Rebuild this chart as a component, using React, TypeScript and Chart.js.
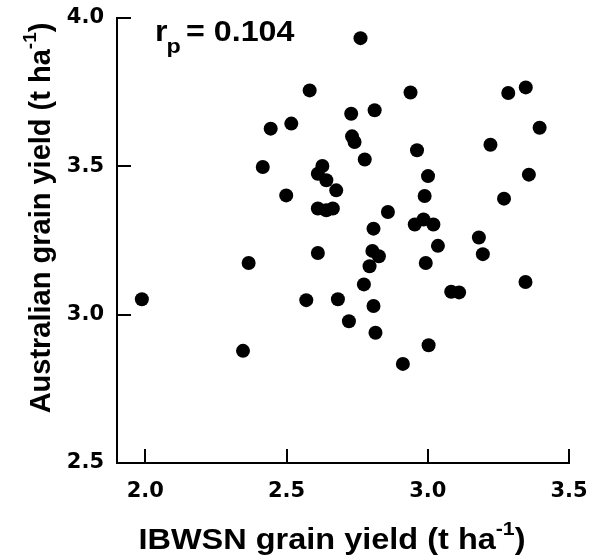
import React, { useEffect, useRef } from "react";
import { Chart, registerables } from "chart.js";

Chart.register(...registerables);

const ibwsnYield = [
  2.762, 2.582, 2.729, 2.812, 2.444, 2.517, 2.732, 2.741, 2.777, 2.416,
  2.627, 2.611, 2.641, 2.676, 2.499, 2.939, 3.285, 3.347, 3.396, 3.222,
  2.962, 3.001, 2.989, 3.358, 3.270, 2.611, 2.641, 2.664, 2.859, 2.808,
  2.611, 2.804, 2.827, 2.794, 2.366, 2.774, 1.988, 2.570, 2.682, 2.808,
  2.721, 2.815, 2.346, 2.912, 2.954, 2.985, 3.020, 3.036, 3.181, 3.195,
  2.993, 3.083, 3.111, 3.346, 3.003,
];
const australianYield = [
  3.932, 3.756, 3.677, 3.689, 3.627, 3.644, 3.601, 3.582, 3.523, 3.498,
  3.501, 3.475, 3.453, 3.419, 3.402, 3.749, 3.747, 3.766, 3.630, 3.573,
  3.554, 3.467, 3.400, 3.472, 3.391, 3.358, 3.352, 3.358, 3.346, 3.290,
  3.208, 3.215, 3.197, 3.163, 3.174, 3.102, 3.052, 3.049, 3.052, 3.029,
  2.978, 2.939, 2.878, 2.834, 3.304, 3.321, 3.304, 3.232, 3.260, 3.204,
  3.174, 3.077, 3.075, 3.110, 2.897,
];
const xTicks = [2.0, 2.5, 3.0, 3.5];
const yTicks = [2.5, 3.0, 3.5, 4.0];
const xTitle = "IBWSN grain yield (t ha";
const yTitle = "Australian grain yield (t ha";
const titleSup = "-1";
const corrLabel = "r";
const corrSub = "p";
const corrValue = "= 0.104";

const FONT = "'Liberation Sans', Arial, Helvetica, sans-serif";
const TICK_FONT = "'DejaVu Sans', 'Liberation Sans', sans-serif";

function drawTitle(ctx: any, main: string, cx: number, sx: number) {
  const mainFont = "bold 29px " + FONT;
  const supFont = "bold 19px " + FONT;
  ctx.font = mainFont;
  const wMain = ctx.measureText(main).width;
  ctx.font = supFont;
  const wSup = ctx.measureText(titleSup).width;
  ctx.font = mainFont;
  const wClose = ctx.measureText(")").width;
  const total = (wMain + wSup + wClose) * sx;
  ctx.save();
  ctx.translate(cx - total / 2, 0);
  ctx.scale(sx, 1);
  ctx.textAlign = "left";
  ctx.fillText(main, 0, 0);
  ctx.font = supFont;
  ctx.fillText(titleSup, wMain, -14);
  ctx.font = mainFont;
  ctx.fillText(")", wMain + wSup, 0);
  ctx.restore();
}

const decorPlugin = {
  id: "decor",
  afterDraw(chart: any) {
    const ctx = chart.ctx;
    const xs = chart.scales.x;
    const ys = chart.scales.y;
    const area = chart.chartArea;
    ctx.save();
    ctx.strokeStyle = "#000";
    ctx.lineWidth = 2;
    const tl = 14;
    xTicks.forEach((v) => {
      const px = Math.round(xs.getPixelForValue(v));
      ctx.beginPath();
      ctx.moveTo(px, area.bottom);
      ctx.lineTo(px, area.bottom - tl);
      ctx.stroke();
    });
    yTicks.forEach((v) => {
      if (v === yTicks[0]) return;
      const py = Math.round(ys.getPixelForValue(v));
      ctx.beginPath();
      ctx.moveTo(area.left, py);
      ctx.lineTo(area.left + tl, py);
      ctx.stroke();
    });

    ctx.fillStyle = "#000";
    ctx.textBaseline = "alphabetic";

    ctx.save();
    ctx.translate(0, 549);
    drawTitle(ctx, xTitle, 332, 1.12);
    ctx.restore();

    ctx.save();
    ctx.translate(50, 218);
    ctx.rotate(-Math.PI / 2);
    drawTitle(ctx, yTitle, 0, 1.0);
    ctx.restore();

    ctx.save();
    ctx.translate(155, 41);
    ctx.scale(1.11, 1);
    ctx.textAlign = "left";
    ctx.font = "bold 29px " + FONT;
    ctx.fillText(corrLabel, 0, 0);
    const wr = ctx.measureText(corrLabel).width;
    ctx.font = "bold 21px " + FONT;
    ctx.fillText(corrSub, wr - 1, 12);
    ctx.font = "bold 29px " + FONT;
    ctx.fillText(corrValue, 28, 0);
    ctx.restore();

    ctx.restore();
  },
};

export default function App() {
  const ref = useRef<HTMLCanvasElement | null>(null);
  useEffect(() => {
    if (!ref.current) return;
    const points = ibwsnYield.map((x, i) => ({ x, y: australianYield[i] }));
    const chart = new Chart(ref.current, {
      type: "scatter",
      data: {
        datasets: [
          {
            data: points,
            backgroundColor: "#000",
            borderColor: "#000",
            pointRadius: 7,
            pointHoverRadius: 7,
            borderWidth: 0,
          },
        ],
      },
      options: {
        responsive: false,
        animation: false,
        devicePixelRatio: 1,
        clip: false as any,
        layout: { padding: { top: 18, right: 22, left: 0, bottom: 0 } },
        plugins: {
          legend: { display: false },
          tooltip: { enabled: false },
        },
        scales: {
          x: {
            type: "linear",
            min: 1.9,
            max: 3.5,
            afterBuildTicks: (s: any) => {
              s.ticks = xTicks.map((v) => ({ value: v }));
            },
            afterFit: (s: any) => {
              s.height = 96;
              s.paddingLeft = 0;
              s.paddingRight = 0;
            },
            grid: { display: false, drawTicks: false },
            border: { display: true, color: "#000", width: 2 },
            ticks: {
              padding: 16,
              color: "#000",
              font: { family: TICK_FONT, size: 21, weight: "bold" },
              callback: (v: any) => Number(v).toFixed(1),
              maxRotation: 0,
            },
          },
          y: {
            type: "linear",
            min: 2.5,
            max: 4.0,
            afterBuildTicks: (s: any) => {
              s.ticks = yTicks.map((v) => ({ value: v }));
            },
            afterFit: (s: any) => {
              s.width = 117;
              s.paddingTop = 0;
              s.paddingBottom = 0;
            },
            grid: { display: false, drawTicks: false },
            border: { display: true, color: "#000", width: 2 },
            ticks: {
              padding: 13,
              color: "#000",
              font: { family: TICK_FONT, size: 21, weight: "bold" },
              callback: (v: any) => Number(v).toFixed(1),
            },
          },
        },
      },
      plugins: [decorPlugin],
    });
    return () => chart.destroy();
  }, []);
  return (
    <div style={{ position: "fixed", left: 0, top: 0, width: 591, height: 559, background: "#fff" }}>
      <canvas ref={ref} width={591} height={559} style={{ width: 591, height: 559 }} />
    </div>
  );
}
